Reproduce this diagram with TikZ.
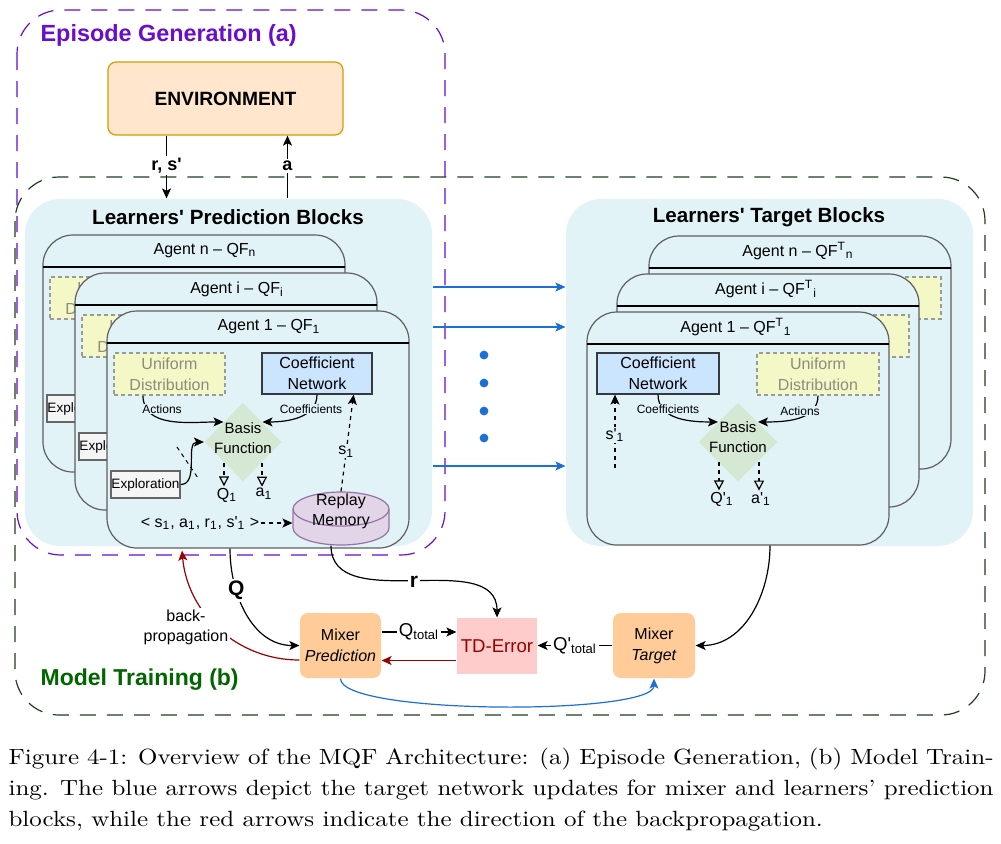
\documentclass[tikz,border=0pt]{standalone}
\usepackage{fontspec}
\newfontfamily\diafont{Liberation Sans}
\newfontfamily\captionfont{Latin Modern Roman}[Ligatures=TeX, FakeStretch=1.135]
\usetikzlibrary{arrows.meta,shapes.geometric}
\definecolor{cyanbg}{HTML}{E1F3F7}
\definecolor{cardline}{HTML}{5F5F5F}
\definecolor{uniffill}{HTML}{F4F8C6}
\definecolor{unifline}{HTML}{9A9A9A}
\definecolor{uniftext}{HTML}{8C8C80}
\definecolor{coeffill}{HTML}{CCE5FF}
\definecolor{coefline}{HTML}{36393D}
\definecolor{basisfill}{HTML}{D5E8D4}
\definecolor{explorefill}{HTML}{F5F5F5}
\definecolor{exploreline}{HTML}{666666}
\definecolor{memfill}{HTML}{E1D5E7}
\definecolor{memline}{HTML}{9673A6}
\definecolor{envfill}{HTML}{FFE6CC}
\definecolor{envline}{HTML}{D79B00}
\definecolor{mixfill}{HTML}{FFCC99}
\definecolor{tdfill}{HTML}{FFCCCC}
\definecolor{darkred}{HTML}{990000}
\definecolor{bluearr}{HTML}{1B6FD6}
\definecolor{epipurple}{HTML}{6A0DCC}
\definecolor{traingreen}{HTML}{006600}
\definecolor{trainline}{HTML}{1F3F1F}

% one agent of the prediction blocks: name, x, y, title
\def\predcard#1#2#3#4{%
\begin{scope}[shift={(#2,#3)}]
\node[card, minimum width=151pt, minimum height=118.5pt] (#1-card) at (151,118.5) {};
\draw[line width=0.7pt] (0,32) -- (302,32);
\node[cardtitle] (#1-title) at (162,16) {#4};
\node[unif, minimum width=55.5pt, minimum height=21pt] (#1-unif) at (62.5,63) {Uniform\\Distribution};
\node[coef, minimum width=55pt, minimum height=20.5pt] (#1-coef) at (210,62.5) {Coefficient\\Network};
\node[basis, minimum width=38.5pt, minimum height=39.5pt] (#1-basis) at (136,131) {};
\node[basistext] (#1-bf) at (136,127) {Basis\\Function};
\node[explore, minimum width=34.5pt, minimum height=13.5pt] (#1-expl) at (38.5,173.5) {Exploration};
\draw[flow] ([xshift=-13.25pt]#1-unif.south) to[out=-90,in=180] (#1-basis.north west);
\draw[flow] (#1-coef.south) to[out=-90,in=0] (#1-basis.north east);
\draw[flow] (#1-expl.east) to[out=0,in=180] (#1-basis.west);
\draw[dashed, dash pattern=on 2pt off 2pt, line width=0.5pt] (70,136) -- (91,167);
\node[smalllabel] (#1-actl) at (55,98) {Actions};
\node[smalllabel] (#1-coefl) at (204,98) {Coefficients};
\node[smalltext] (#1-q) at (120,184) {Q\textsubscript{1}};
\node[smalltext] (#1-a) at (157,183) {a\textsubscript{1}};
\coordinate (#1-qs) at (117,152);
\coordinate (#1-as) at (155,152);
\draw[outflow] (#1-qs) -- (#1-qs |- #1-q.north);
\draw[outflow] (#1-as) -- (#1-as |- #1-a.north);
\filldraw[memory] (186,198) -- (186,217) arc[start angle=180, end angle=360, x radius=24pt, y radius=8.5pt] -- (282,198);
\filldraw[memory] (234,198) ellipse[x radius=24pt, y radius=8.5pt];
\node[inner sep=0, minimum width=48pt, minimum height=26.5pt] (#1-mem) at (234,207.5) {};
\node[memtext] (#1-memtxt) at (234,200) {Replay\\Memory};
\node[smalltext] (#1-tup) at (93,212) {< s\textsubscript{1}, a\textsubscript{1}, r\textsubscript{1}, s'\textsubscript{1} >};
\draw[dataflow] (#1-tup.east) -- (#1-tup.east -| #1-mem.west);
\draw[dataflow] (#1-mem.north) -- ([xshift=-9.5pt]#1-coef.south east) node[pos=.41, onlabel] (#1-s) {s\textsubscript{1}};
\end{scope}}

% one agent of the target blocks: name, x, y, title
\def\targcard#1#2#3#4{%
\begin{scope}[shift={(#2,#3)}]
\node[card, minimum width=151pt, minimum height=116.5pt] (#1-card) at (151,116.5) {};
\draw[line width=0.7pt] (0,32) -- (302,32);
\node[cardtitle] (#1-title) at (149,15) {#4};
\node[coef, minimum width=61pt, minimum height=20.5pt] (#1-coef) at (71,61.5) {Coefficient\\Network};
\node[unif, minimum width=61pt, minimum height=21pt] (#1-unif) at (231,62) {Uniform\\Distribution};
\node[basis, minimum width=39.5pt, minimum height=39.5pt] (#1-basis) at (151,130) {};
\node[basistext] (#1-bf) at (151,125) {Basis\\Function};
\draw[flow] (#1-coef.south) to[out=-90,in=180] (#1-basis.north west);
\draw[flow] (#1-unif.south) to[out=-90,in=0] (#1-basis.north east);
\node[smalllabel] (#1-coefl) at (81,97) {Coefficients};
\node[smalllabel] (#1-actl) at (213,99) {Actions};
\coordinate (#1-sin) at (28,156);
\draw[dataflow] (#1-sin) -- (#1-sin |- #1-coef.south) node[pos=.45, onlabel] (#1-s) {s'\textsubscript{1}};
\node[smalltext] (#1-q) at (135,187) {Q'\textsubscript{1}};
\node[smalltext] (#1-a) at (174,187) {a'\textsubscript{1}};
\coordinate (#1-qs) at (132,150);
\coordinate (#1-as) at (172,150);
\draw[outflow] (#1-qs) -- (#1-qs |- #1-q.north);
\draw[outflow] (#1-as) -- (#1-as |- #1-a.north);
\end{scope}}

\begin{document}
\begin{tikzpicture}[x=0.5pt,y=-0.5pt,line width=0.6pt,font=\diafont,
  frame/.style={dashed, dash pattern=on 8pt off 5.5pt, rounded corners=22pt},
  container/.style={fill=cyanbg, rounded corners=17.5pt, inner sep=0},
  blocktitle/.style={inner sep=0, font=\diafont\bfseries\fontsize{10.3}{12}\selectfont},
  card/.style={draw=cardline, fill=cyanbg, rounded corners=15pt, inner sep=0},
  cardtitle/.style={inner sep=0, font=\diafont\fontsize{8}{10}\selectfont},
  unif/.style={draw=unifline, fill=uniffill, text=uniftext, dash pattern=on 2pt off 1.5pt, align=center, inner sep=0, font=\diafont\fontsize{8}{10.5}\selectfont},
  coef/.style={draw=coefline, fill=coeffill, align=center, inner sep=0, font=\diafont\fontsize{8}{10.5}\selectfont},
  basis/.style={diamond, fill=basisfill, inner sep=0, aspect=1},
  basistext/.style={align=center, inner sep=0, font=\diafont\fontsize{7.5}{10}\selectfont},
  explore/.style={draw=exploreline, fill=explorefill, inner sep=0, font=\diafont\fontsize{6.8}{8}\selectfont},
  memory/.style={draw=memline, fill=memfill},
  memtext/.style={align=center, inner sep=0, font=\diafont\fontsize{8}{10}\selectfont},
  smalllabel/.style={fill=cyanbg, inner sep=0.5pt, font=\diafont\fontsize{6}{7}\selectfont},
  smalltext/.style={inner sep=0.5pt, font=\diafont\fontsize{8}{9}\selectfont},
  onlabel/.style={fill=cyanbg, inner sep=0.5pt, font=\diafont\fontsize{8}{9}\selectfont},
  envbox/.style={draw=envline, fill=envfill, rounded corners=4pt, inner sep=0, font=\diafont\bfseries\fontsize{9.6}{11}\selectfont},
  arrowlabel/.style={fill=white, inner sep=1pt, font=\diafont\bfseries\fontsize{9}{10}\selectfont},
  biglabel/.style={fill=white, inner sep=1pt, font=\diafont\bfseries\fontsize{10.5}{12}\selectfont},
  mixer/.style={fill=mixfill, rounded corners=4pt, align=center, inner sep=0, font=\diafont\fontsize{8}{10.5}\selectfont},
  tdbox/.style={fill=tdfill, text=darkred, inner sep=0, font=\diafont\fontsize{9.3}{11}\selectfont},
  sumlabel/.style={fill=white, inner sep=1pt, font=\diafont\fontsize{9.3}{10}\selectfont},
  flow/.style={-{Stealth[length=5pt,width=4.5pt,inset=1.2pt]}},
  dataflow/.style={flow, dashed, dash pattern=on 2pt off 2pt},
  outflow/.style={dashed, dash pattern=on 2pt off 2pt, -{Triangle[open,length=5pt,width=5pt]}},
  backflow/.style={flow, draw=darkred},
  bluearrow/.style={flow, draw=bluearr}]
\useasboundingbox (0,0) rectangle (1001,843);
\fill[white] (0,0) rectangle (1001,843);

\draw[frame, draw=trainline] (15,177) rectangle (985,715);
\draw[frame, draw=epipurple] (17,10) rectangle (445,555);
\node[anchor=west, inner sep=0, text=epipurple, font=\diafont\bfseries\fontsize{11.7}{14}\selectfont] (epilab) at (40,35) {Episode Generation (a)};
\node[anchor=west, inner sep=0, text=traingreen, font=\diafont\bfseries\fontsize{11.5}{14}\selectfont] (trainlab) at (40,680) {Model Training (b)};

\node[container, minimum width=203.5pt, minimum height=173.5pt] (pcont) at (228.5,372.5) {};
\node[blocktitle] (ptitle) at (228,217) {Learners' Prediction Blocks};
\node[container, minimum width=203.5pt, minimum height=173.5pt] (tcont) at (769.5,372.5) {};
\node[blocktitle] (ttitle) at (769,217) {Learners' Target Blocks};

\predcard{pn}{43}{235}{Agent n \textendash{} QF\textsubscript{n}}
\predcard{pi}{75}{273}{Agent i \textendash{} QF\textsubscript{i}}
\predcard{p1}{107}{311}{Agent 1 \textendash{} QF\textsubscript{1}}
\targcard{tn}{649}{236}{Agent n \textendash{} QF\textsuperscript{T}\textsubscript{n}}
\targcard{ti}{617}{274}{Agent i \textendash{} QF\textsuperscript{T}\textsubscript{i}}
\targcard{t1}{587}{312}{Agent 1 \textendash{} QF\textsuperscript{T}\textsubscript{1}}

\foreach \dy in {42.75,22.75,-46.75}
  \draw[bluearrow] ([yshift=\dy pt]pcont.east) -- ([yshift=\dy pt]tcont.west);
\foreach \y in {355,383,411,438}
  \fill[bluearr] (484,\y) circle (2.2pt);

\node[envbox, minimum width=117.5pt, minimum height=36.5pt] (env) at (225.5,98.5) {ENVIRONMENT};
\draw[flow] ([xshift=-29.5pt]env.south) -- ([xshift=-29.5pt]env.south |- pcont.north) node[pos=.48, arrowlabel] (rs) {r, s'};
\draw[flow] ([xshift=31pt]env.south |- pcont.north) -- ([xshift=31pt]env.south) node[pos=.52, arrowlabel] (alab) {a};

\node[mixer, minimum width=40.5pt, minimum height=32.5pt] (mixp) at (340.5,645.5) {Mixer\\\textit{Prediction}};
\node[tdbox, minimum width=40pt, minimum height=28pt] (tderr) at (497,646) {TD-Error};
\node[mixer, minimum width=41pt, minimum height=32.5pt] (mixt) at (654,645.5) {Mixer\\\textit{Target}};

\draw[flow] ([xshift=-14pt]p1-card.south) to[out=-90,in=180] node[pos=.3, biglabel] (qlab) {Q} (mixp.west);
\draw[flow] ([xshift=-5pt]p1-mem.south) to[out=-90,in=90] node[pos=.5, biglabel] (rlab) {r} (tderr.north);
\draw[flow] ([yshift=6.75pt]mixp.east) -- ([yshift=6.75pt]mixp.east -| tderr.west) node[midway, sumlabel] (qtot) {Q\textsubscript{total}};
\draw[backflow] ([yshift=-7.25pt]tderr.west) -- ([yshift=-7.25pt]tderr.west -| mixp.east);
\draw[flow] (mixt.west) -- (mixt.west -| tderr.east) node[midway, sumlabel] (qttot) {Q'\textsubscript{total}};
\draw[flow] ([xshift=16pt]t1-card.south) to[out=-90,in=0] (mixt.east);
\draw[bluearrow] (mixp.south) to[out=-90,in=-90,looseness=0.3] (mixt.south);
\draw[backflow] ([yshift=-7.25pt]mixp.west) to[out=180,in=-85] ([xshift=-23.25pt,yshift=-2pt]pcont.south);
\node[fill=white, inner sep=1pt, align=center, font=\diafont\fontsize{8}{10}\selectfont] (bplab) at (186,627) {back-\\propagation};

\node[anchor=north west, inner sep=0, text width=492.5pt, align=justify, font=\captionfont\fontsize{11}{15.5}\selectfont] (caption) at (8,747) {Figure 4-1: Overview of the MQF Architecture: (a) Episode Generation, (b) Model Train-\linebreak ing. The blue arrows depict the target network updates for mixer and learners' prediction\linebreak blocks, while the red arrows indicate the direction of the backpropagation.};
\end{tikzpicture}
\end{document}
